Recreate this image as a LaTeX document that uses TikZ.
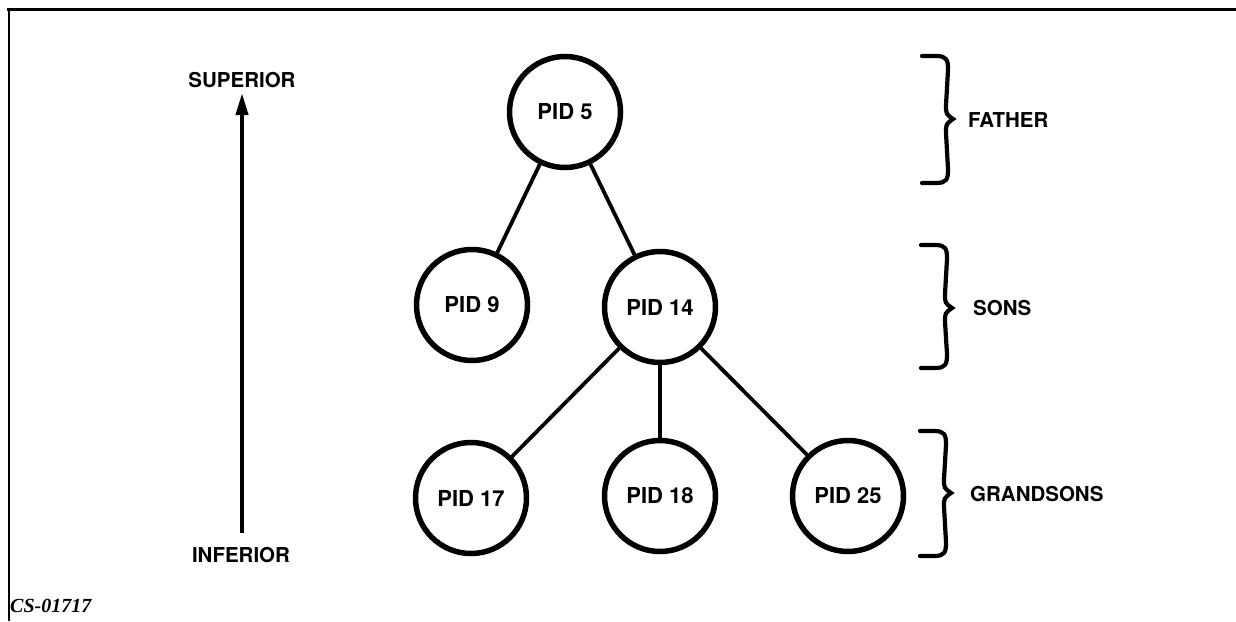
\documentclass[tikz,border=0pt]{standalone}
\usepackage{fontspec}
\setmainfont{TeX Gyre Heros}
\newfontfamily\capfont{Liberation Serif}
\usetikzlibrary{arrows.meta}
\tikzset{
  pid/.style={circle,draw,line width=5.5pt,minimum size=111pt,inner sep=0pt,
    font=\fontsize{22}{24}\selectfont\bfseries},
  lbl/.style={inner sep=0pt,font=\fontsize{20.5}{24}\selectfont\bfseries},
  link/.style={line width=3.8pt},
  bracestyle/.style={line width=4.2pt,line cap=round,line join=miter},
  frame/.style={line width=3pt},
}
\newcommand{\mybrace}[4]{% x0, ytop, ymid, ybot
  \draw[bracestyle] (#1,#2) -- (#1+14,#2) .. controls (#1+25,#2) and (#1+26,#2+4) .. (#1+26,#2+14)
    -- (#1+24,#3-14) .. controls (#1+24,#3-5) .. (#1+31,#3)
    .. controls (#1+24,#3+5) .. (#1+24,#3+14)
    -- (#1+26,#4-14) .. controls (#1+26,#4-4) and (#1+25,#4) .. (#1+14,#4) -- (#1,#4);
}
\begin{document}
\begin{tikzpicture}[x=1pt,y=-1pt]
\useasboundingbox (0,0) rectangle (1236,621);
% frame
\draw[frame] (7,9.5) -- (1236,9.5);
\draw[line width=2pt] (8.5,9) -- (8.5,621);
% tree
\node[pid] (p5)  at (565,112) {PID 5};
\node[pid] (p9)  at (472,305) {PID 9};
\node[pid] (p14) at (660,307) {PID 14};
\node[pid] (p17) at (471,498) {PID 17};
\node[pid] (p18) at (660,496) {PID 18};
\node[pid] (p25) at (848,496) {PID 25};
\draw[link] (p5) -- (p9);
\draw[link] (p5) -- (p14);
\draw[link] (p14) -- (p17);
\draw[link] (p14) -- (p18);
\draw[link] (p14) -- (p25);
% left axis
\node[lbl] (sup) at (242,80) {SUPERIOR};
\node[lbl] (inf) at (241,555) {INFERIOR};
\coordinate (abot) at (242,533);
\coordinate (atop) at (242,93);
\draw[line width=4pt,-{Triangle[length=22pt,width=12pt]}] (abot) -- (atop);
% braces
\mybrace{922}{56}{119}{183}
\mybrace{921}{245}{308}{368}
\mybrace{920}{431}{493}{556}
\node[lbl,anchor=west] (fa) at (968,120) {FATHER};
\node[lbl,anchor=west] (so) at (973,308) {SONS};
\node[lbl,anchor=west] (gr) at (970,494) {GRANDSONS};
% caption
\node[inner sep=0pt,anchor=base west,font=\capfont\fontsize{20}{24}\selectfont\bfseries\itshape] (cap) at (10,612) {CS-01717};
\end{tikzpicture}
\end{document}
